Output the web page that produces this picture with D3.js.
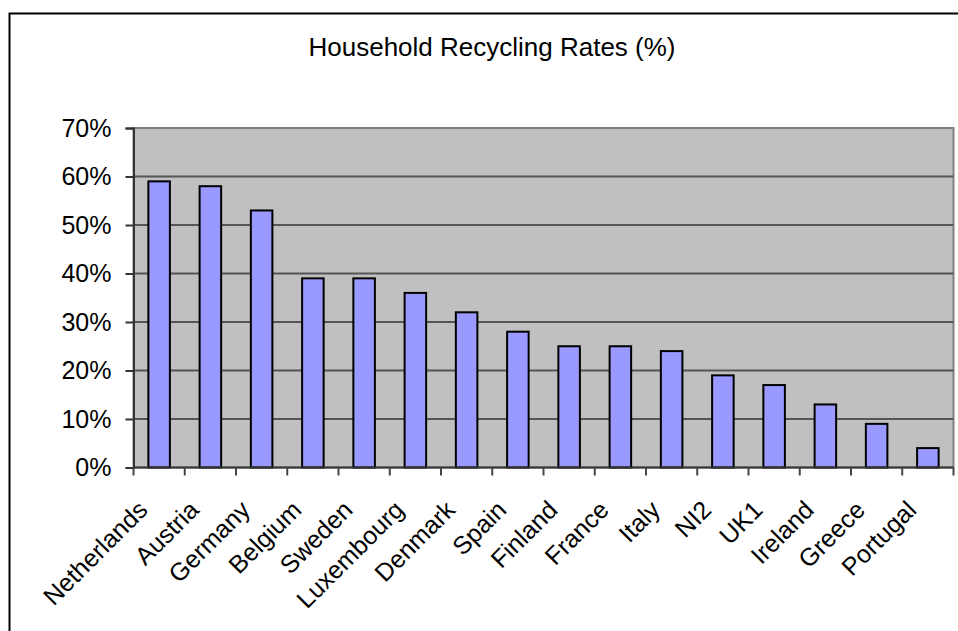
<!DOCTYPE html>
<html>
<head>
<meta charset="utf-8">
<script src="https://cdn.jsdelivr.net/npm/d3@7"></script>
<style>
  html, body { margin: 0; padding: 0; background: #fff; }
  svg { display: block; }
  text { font-family: "Liberation Sans", Arial, sans-serif; fill: #000; }
</style>
</head>
<body>
<svg id="chart" width="958" height="631"></svg>
<script>
// Household recycling rates by country, percent
const countries = ["Netherlands", "Austria", "Germany", "Belgium", "Sweden", "Luxembourg",
  "Denmark", "Spain", "Finland", "France", "Italy", "NI2", "UK1", "Ireland", "Greece", "Portugal"];
const rates = [59, 58, 53, 39, 39, 36, 32, 28, 25, 25, 24, 19, 17, 13, 9, 4];
const yTicks = [0, 10, 20, 30, 40, 50, 60, 70];
const title = "Household Recycling Rates (%)";

const svg = d3.select("#chart");
const plot = { left: 133.5, right: 953.5, top: 128, bottom: 467.5 };

// Chart frame
svg.append("rect")
  .attr("x", 9.5).attr("y", 13.5)
  .attr("width", 1000).attr("height", 700)
  .attr("fill", "#fff").attr("stroke", "#000").attr("stroke-width", 2);

svg.append("text")
  .attr("x", 492).attr("y", 56)
  .attr("text-anchor", "middle")
  .attr("font-size", 26)
  .text(title);

const x = d3.scaleBand().domain(countries).range([plot.left, plot.right]).padding(0);
const y = d3.scaleLinear().domain([0, 70]).range([plot.bottom, plot.top]);

// Plot area background
svg.append("rect")
  .attr("x", plot.left).attr("y", plot.top)
  .attr("width", plot.right - plot.left).attr("height", plot.bottom - plot.top)
  .attr("fill", "#C0C0C0").attr("stroke", "#808080").attr("stroke-width", 2);

// Gridlines
svg.append("g")
  .selectAll("line")
  .data(yTicks.filter(d => d > 0))
  .join("line")
  .attr("x1", plot.left).attr("x2", plot.right)
  .attr("y1", d => y(d)).attr("y2", d => y(d))
  .attr("stroke", d => d === 70 ? "#808080" : "#555").attr("stroke-width", 2);

// Bars
const bw = x.bandwidth() * 0.42;
svg.append("g")
  .selectAll("rect")
  .data(countries)
  .join("rect")
  .attr("x", (d) => x(d) + (x.bandwidth() - bw) / 2)
  .attr("y", (d, i) => y(rates[i]))
  .attr("width", bw)
  .attr("height", (d, i) => y(0) - y(rates[i]))
  .attr("fill", "#9999FF")
  .attr("stroke", "#000")
  .attr("stroke-width", 2);

// Y axis
const yAxis = d3.axisLeft(y)
  .tickValues(yTicks)
  .tickFormat(d => d + "%")
  .tickSize(8)
  .tickPadding(14);
const gy = svg.append("g").attr("transform", `translate(${plot.left},0)`).call(yAxis);
gy.select(".domain").attr("stroke", "#333").attr("stroke-width", 2);
gy.selectAll(".tick line").attr("stroke", "#333").attr("stroke-width", 2);
gy.selectAll(".tick text").attr("font-size", 25).attr("font-family", "Liberation Sans, Arial, sans-serif").attr("fill", "#000");

// X axis: ticks at category boundaries
const gx = svg.append("g");
gx.append("line")
  .attr("x1", plot.left).attr("x2", plot.right)
  .attr("y1", plot.bottom).attr("y2", plot.bottom)
  .attr("stroke", "#333").attr("stroke-width", 2);
const bounds = countries.map(d => x(d)).concat([plot.right]);
gx.selectAll("line.tk")
  .data(bounds)
  .join("line")
  .attr("class", "tk")
  .attr("x1", d => d).attr("x2", d => d)
  .attr("y1", plot.bottom).attr("y2", plot.bottom + 8)
  .attr("stroke", "#444").attr("stroke-width", 2);

gx.selectAll("text")
  .data(countries)
  .join("text")
  .attr("text-anchor", "end")
  .attr("font-size", 25)
  .attr("transform", d => `translate(${x(d) + x.bandwidth() / 2 - 10},${plot.bottom + 44}) rotate(-45)`)
  .text(d => d);
</script>
</body>
</html>
